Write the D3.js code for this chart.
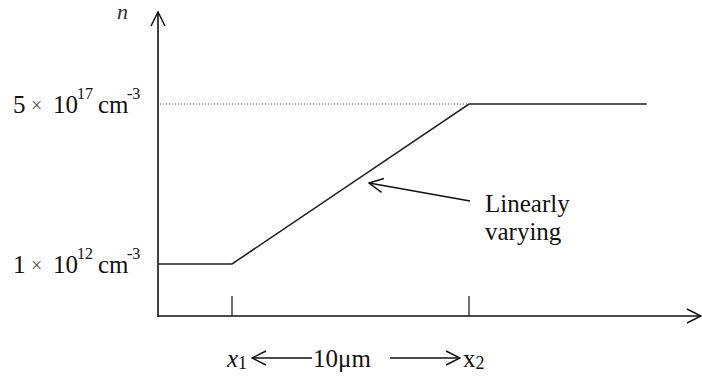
<!DOCTYPE html>
<html>
<head>
<meta charset="utf-8">
<script src="https://cdn.jsdelivr.net/npm/d3@7"></script>
<style>
  body { margin: 0; background: #fff; }
</style>
</head>
<body>
<div id="chart"></div>
<script>
// doping profile n(x), x in µm measured from x1
const profileX = [-3.1, 0, 10, 17.5];
const profileN = [1e12, 1e12, 5e17, 5e17];
const levelValues = [1e12, 5e17];
const levelMant = ["1", "5"];
const levelExp = ["12", "17"];
const tickValues = [0, 10];
const tickNames = ["1", "2"];

const width = 702, height = 379;
const serif = "'Liberation Serif', 'DejaVu Serif', serif";
const svg = d3.select("#chart").append("svg")
    .attr("width", width)
    .attr("height", height)
    .attr("font-family", serif);

const x = d3.scaleLinear().domain([0, 10]).range([232, 469]);
const y = d3.scaleLog().domain([1e12, 5e17]).range([264, 104]);

const axisX0 = 158, axisY0 = 316;

svg.append("defs").append("marker")
    .attr("id", "open")
    .attr("viewBox", "0 0 16 16")
    .attr("refX", 15).attr("refY", 8)
    .attr("markerWidth", 16).attr("markerHeight", 16)
    .attr("markerUnits", "userSpaceOnUse")
    .attr("orient", "auto")
  .append("path")
    .attr("d", "M1,1 L15,8 L1,15")
    .attr("fill", "none")
    .attr("stroke", "#111")
    .attr("stroke-width", 1.5);

// axes
svg.append("line")
    .attr("x1", axisX0).attr("y1", axisY0 + 1)
    .attr("x2", axisX0).attr("y2", 12)
    .attr("stroke", "#111").attr("stroke-width", 1.6)
    .attr("marker-end", "url(#open)");
svg.append("line")
    .attr("x1", axisX0).attr("y1", axisY0)
    .attr("x2", 701).attr("y2", axisY0)
    .attr("stroke", "#111").attr("stroke-width", 1.6)
    .attr("marker-end", "url(#open)");

svg.append("text")
    .attr("x", 117).attr("y", 19)
    .attr("fill", "#333")
    .style("font-size", "22px").style("font-style", "italic")
    .text("n");

// ticks
svg.selectAll("line.tick").data(tickValues).enter().append("line")
    .attr("class", "tick")
    .attr("x1", d => x(d)).attr("x2", d => x(d))
    .attr("y1", axisY0 - 20).attr("y2", axisY0)
    .attr("stroke", "#111").attr("stroke-width", 1.2);

// dotted guide at top level
svg.append("line")
    .attr("x1", axisX0 + 2).attr("x2", x(10))
    .attr("y1", y(5e17)).attr("y2", y(5e17))
    .attr("stroke", "#444").attr("stroke-width", 1)
    .attr("stroke-dasharray", "1,2");

// profile
const pts = profileX.map((d, i) => [x(d), y(profileN[i])]);
svg.append("path")
    .attr("d", d3.line()(pts))
    .attr("fill", "none")
    .attr("stroke", "#222")
    .attr("stroke-width", 1.6);

// level labels
levelValues.forEach((v, i) => {
    const base = y(v) + 9;
    const g = svg.append("g").attr("fill", "#111");
    g.append("text").attr("x", 13).attr("y", base).style("font-size", "25px").text(levelMant[i]);
    g.append("text").attr("x", 31).attr("y", base - 1).attr("fill", "#555")
        .style("font-size", "20px").text("\u00d7");
    g.append("text").attr("x", 53).attr("y", base).style("font-size", "25px").text("10");
    g.append("text").attr("x", 77).attr("y", base - 14).style("font-size", "16px").text(levelExp[i]);
    g.append("text").attr("x", 98).attr("y", base).style("font-size", "25px").text("cm");
    g.append("text").attr("x", 127).attr("y", base - 14).style("font-size", "16px").text("-3");
});

// annotation
svg.append("line")
    .attr("x1", 470).attr("y1", 201)
    .attr("x2", 369).attr("y2", 183)
    .attr("stroke", "#111").attr("stroke-width", 1.5)
    .attr("marker-end", "url(#open)");
svg.append("text").attr("x", 485).attr("y", 212)
    .attr("fill", "#111")
    .style("font-size", "25px").text("Linearly");
svg.append("text").attr("x", 485).attr("y", 240)
    .attr("fill", "#111")
    .style("font-size", "25px").text("varying");

// bottom labels
const by = 367;
tickValues.forEach((d, i) => {
    const t = svg.append("text")
        .attr("x", i === 0 ? x(d) - 5 : x(d) - 6)
        .attr("y", by)
        .attr("fill", "#111")
        .style("font-size", "25px");
    t.append("tspan").style("font-style", i === 0 ? "italic" : "normal").text("x");
    t.append("tspan").attr("dy", 2).style("font-size", "18px").text(tickNames[i]);
});
svg.append("line")
    .attr("x1", 312).attr("y1", 358).attr("x2", 252).attr("y2", 358)
    .attr("stroke", "#111").attr("stroke-width", 1.5)
    .attr("marker-end", "url(#open)");
svg.append("line")
    .attr("x1", 390).attr("y1", 358).attr("x2", 460).attr("y2", 358)
    .attr("stroke", "#111").attr("stroke-width", 1.5)
    .attr("marker-end", "url(#open)");
svg.append("text").attr("x", 313).attr("y", by)
    .attr("fill", "#111")
    .style("font-size", "25px").text("10\u03bcm");
</script>
</body>
</html>
